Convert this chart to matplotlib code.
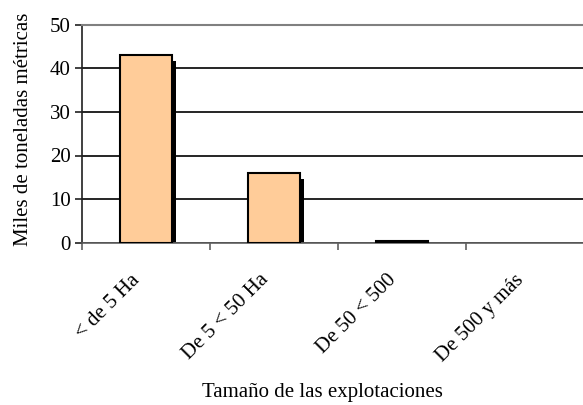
import numpy as np
import matplotlib.pyplot as plt

# farm size classes and production (thousand metric tons)
categories = ["< de 5 Ha", "De 5 < 50 Ha", "De 50 < 500", "De 500 y más"]
values = [43, 16, 0.4, 0]
yticks = [0, 10, 20, 30, 40, 50]

plt.rcParams["font.family"] = ["Liberation Serif", "DejaVu Serif"]
plt.rcParams["font.size"] = 15

fig = plt.figure(figsize=(5.83, 4.05), dpi=100)
ax = fig.add_axes([82 / 583, 1 - 242.7 / 405, 512 / 583, 218 / 405])

x = np.arange(len(categories)) + 0.5
w = 0.41
vals = np.array(values)
lw = np.where(vals > 0, 1.5, 0)

# shadow first, then the bars on top
ax.bar(x + 0.03, np.maximum(vals - 1.3, 0), width=w, color="black", zorder=2)
ax.bar(x, vals, width=w, color="#FFCC99", edgecolor="black", linewidth=lw, zorder=3)

ax.set_xlim(0, 4)
ax.set_ylim(0, 50)
ax.set_yticks(yticks)
ax.set_xticks(np.arange(5))
ax.set_xticklabels([])
for xi, lab in zip(x, categories):
    ax.annotate(lab, xy=(xi, 0), xycoords=("data", "axes fraction"),
                xytext=(-11, -20), textcoords="offset points",
                rotation=45, ha="right", va="top", rotation_mode="anchor")

ax.yaxis.grid(True, color="black", linewidth=1.2, zorder=1)
ax.set_axisbelow(True)
ax.spines["right"].set_visible(False)
ax.spines["top"].set_color("#808080")
ax.spines["top"].set_linewidth(1.5)
ax.spines["left"].set_color("#202020")
ax.spines["bottom"].set_color("#606060")
ax.spines["left"].set_linewidth(1.2)
ax.spines["bottom"].set_linewidth(1.2)
ax.tick_params(axis="y", length=5, color="#202020", width=1.2, pad=3)
ax.tick_params(axis="x", length=5, color="#606060", width=1.2)

ax.set_ylabel("Miles de toneladas métricas")
ax.yaxis.set_label_coords(-49 / 512, 0.52)
fig.text(322 / 583, 1 - 392 / 405, "Tamaño de las explotaciones", ha="center", va="center")

fig.savefig("out.png", dpi=100)
